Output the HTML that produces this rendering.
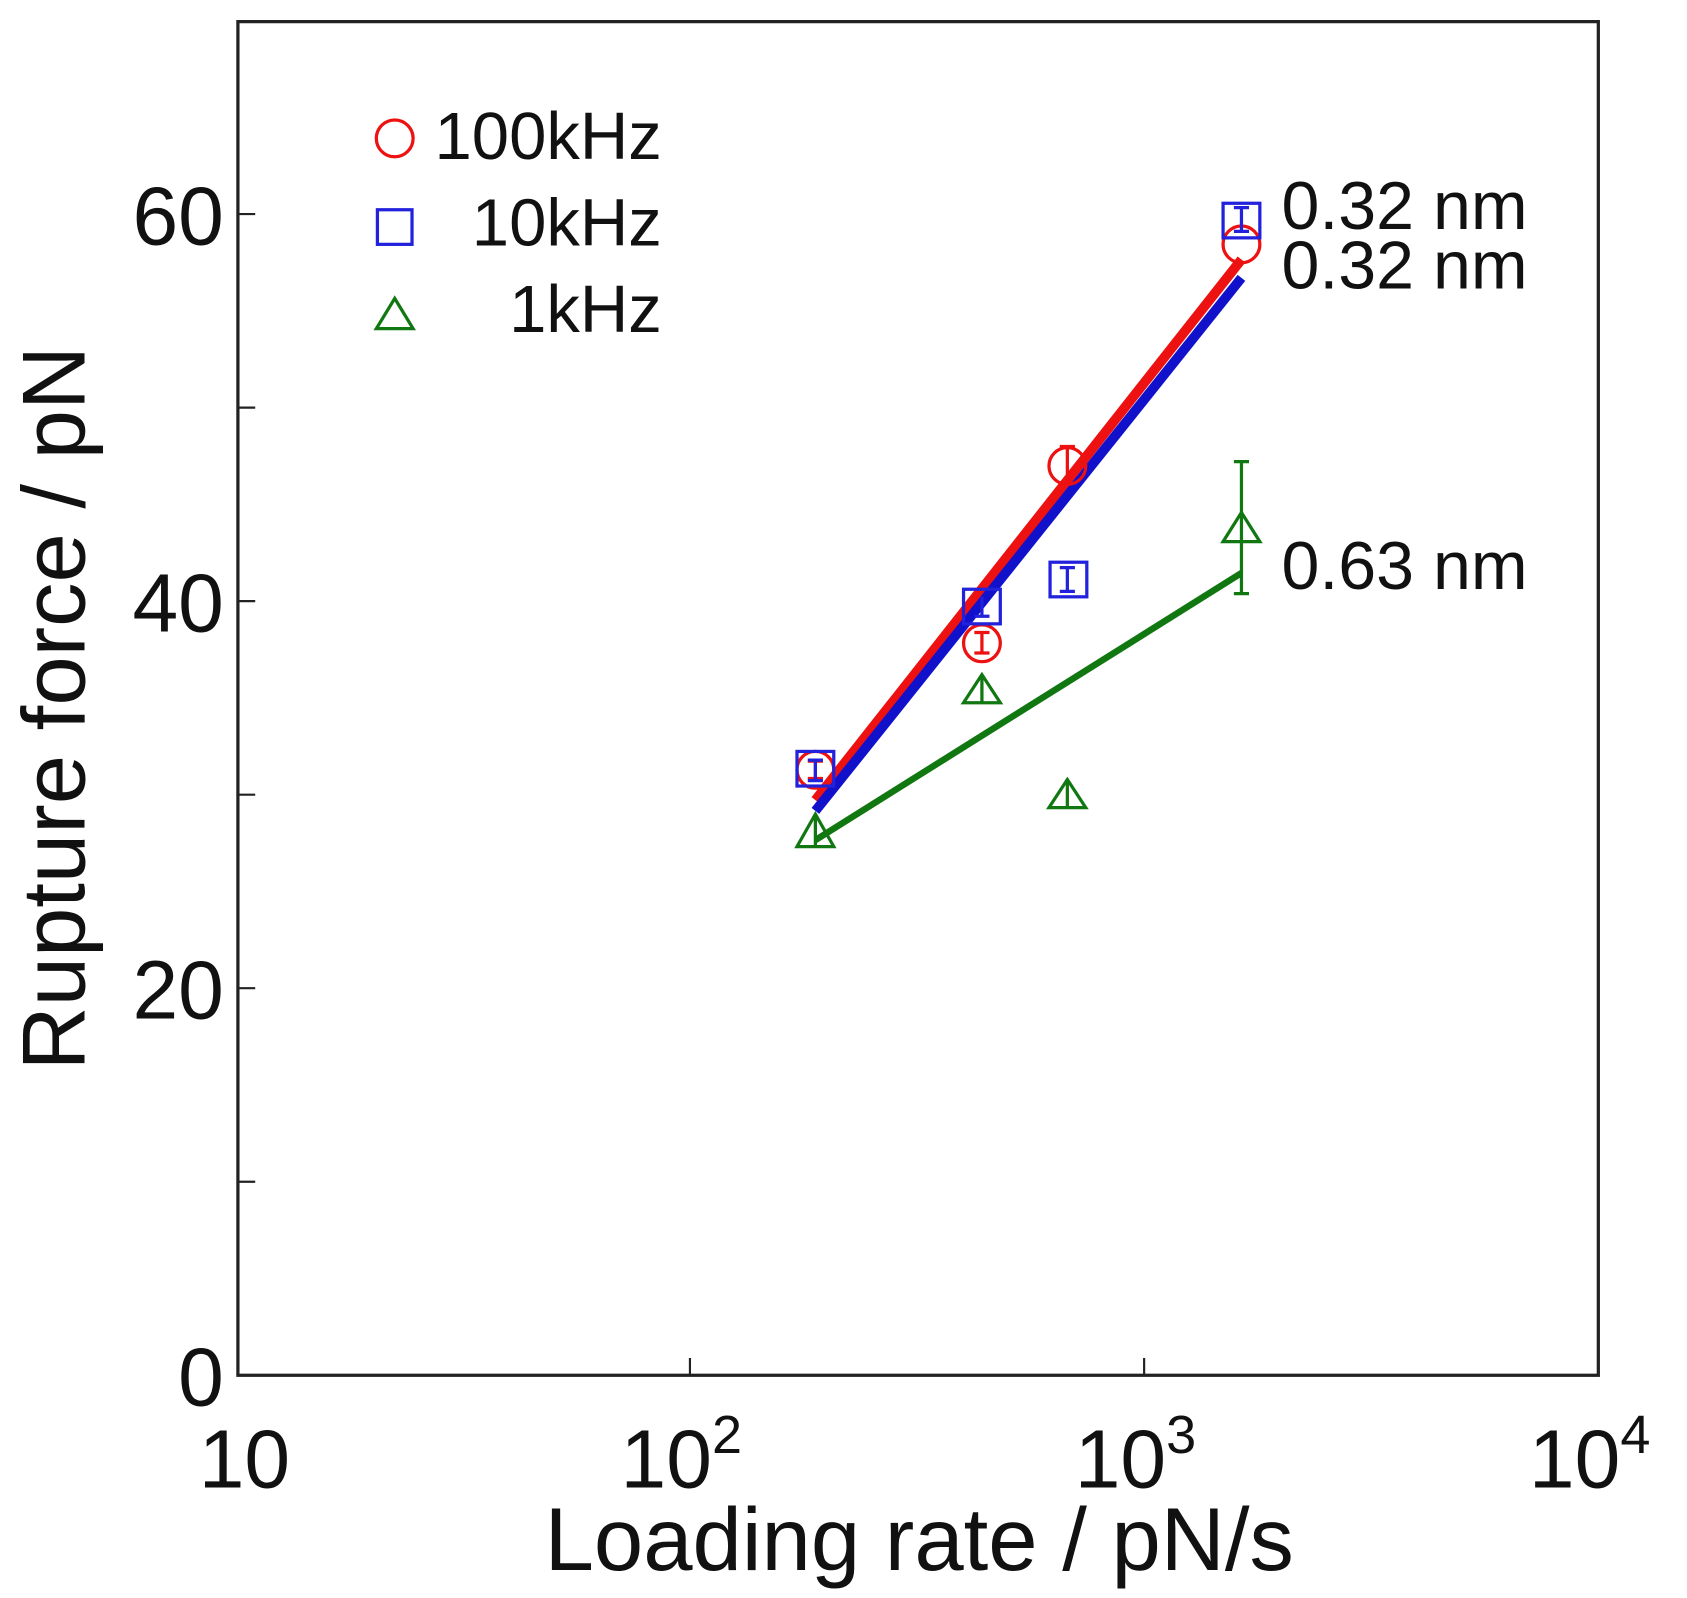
<!DOCTYPE html>
<html><head><style>html,body{margin:0;padding:0;background:#fff;}svg{display:block;}</style></head>
<body>
<svg width="1687" height="1598" viewBox="0 0 1560 1478" preserveAspectRatio="none" xmlns="http://www.w3.org/2000/svg" font-family="'Liberation Sans', sans-serif">
<rect x="220" y="20" width="1258" height="1252" fill="none" stroke="#222" stroke-width="3"/>
<g stroke="#222" stroke-width="2">
<line x1="220" y1="377" x2="236" y2="377"/><line x1="220" y1="735" x2="236" y2="735"/><line x1="220" y1="1093" x2="236" y2="1093"/>
<line x1="220" y1="198" x2="236" y2="198"/><line x1="220" y1="556" x2="236" y2="556"/><line x1="220" y1="914" x2="236" y2="914"/>
<line x1="638" y1="1272" x2="638" y2="1256"/><line x1="1058" y1="1272" x2="1058" y2="1256"/>
</g>
<g font-size="76" fill="#111" text-anchor="end">
<text x="207" y="226">60</text><text x="207" y="584">40</text><text x="207" y="942">20</text><text x="207" y="1300">0</text>
</g>
<g font-size="76" fill="#111" text-anchor="middle">
<text x="226" y="1376">10</text>
<text x="630" y="1376">10<tspan font-size="50" dy="-32">2</tspan></text>
<text x="1050" y="1376">10<tspan font-size="50" dy="-32">3</tspan></text>
<text x="1470" y="1376">10<tspan font-size="50" dy="-32">4</tspan></text>
<text x="850" y="1452" font-size="82">Loading rate / pN/s</text>
<text transform="translate(78,655) rotate(-90)" font-size="82">Rupture force / pN</text>
</g>
<g font-size="62" fill="#111" text-anchor="end">
<text x="612" y="147">100kHz</text><text x="612" y="227">10kHz</text><text x="612" y="307">1kHz</text>
</g>
<circle cx="365" cy="128" r="17" fill="none" stroke="#e11" stroke-width="3"/>
<rect x="349" y="194" width="32" height="32" fill="none" stroke="#22d" stroke-width="3"/>
<polygon points="365,276 348,304 382,304" fill="none" stroke="#171" stroke-width="3"/>
<g font-size="63" fill="#111">
<text x="1185" y="212">0.32 nm</text><text x="1185" y="267">0.32 nm</text><text x="1185" y="545">0.63 nm</text>
</g>
<line x1="754" y1="740" x2="1148" y2="240" stroke="#e11" stroke-width="9"/>
<line x1="754" y1="750" x2="1148" y2="257" stroke="#11c" stroke-width="9"/>
<line x1="754" y1="777" x2="1148" y2="530" stroke="#171" stroke-width="6"/>
<g fill="none" stroke-width="3">
<g stroke="#e11">
<circle cx="754" cy="712" r="17"/><circle cx="908" cy="595" r="17"/><circle cx="987" cy="431" r="17"/><circle cx="1148" cy="226" r="17"/>
<path d="M908,585V604M901,585h14M901,604h14M987,413V444M980,413h14M754,704V720M747,704h14M747,720h14"/>
</g>
<g stroke="#22d">
<rect x="737" y="695" width="34" height="32"/><rect x="891" y="545" width="34" height="32"/><rect x="971" y="520" width="34" height="32"/><rect x="1131" y="188" width="34" height="32"/>
<path d="M754,703V722M747,703h14M747,722h14M987,525V547M980,525h14M980,547h14M1148,192V214M1141,192h14M1141,214h14M908,552V570M901,570h14"/>
</g>
<g stroke="#171">
<polygon points="754,753 737,783 771,783"/><polygon points="908,624 891,650 925,650"/><polygon points="987,721 970,747 1004,747"/><polygon points="1148,474 1131,501 1165,501"/>
<path d="M1148,427V549M1141,427h14M1141,549h14M908,624V650M987,721V747M754,755V783"/>
</g>
</g>
</svg>
</body></html>
